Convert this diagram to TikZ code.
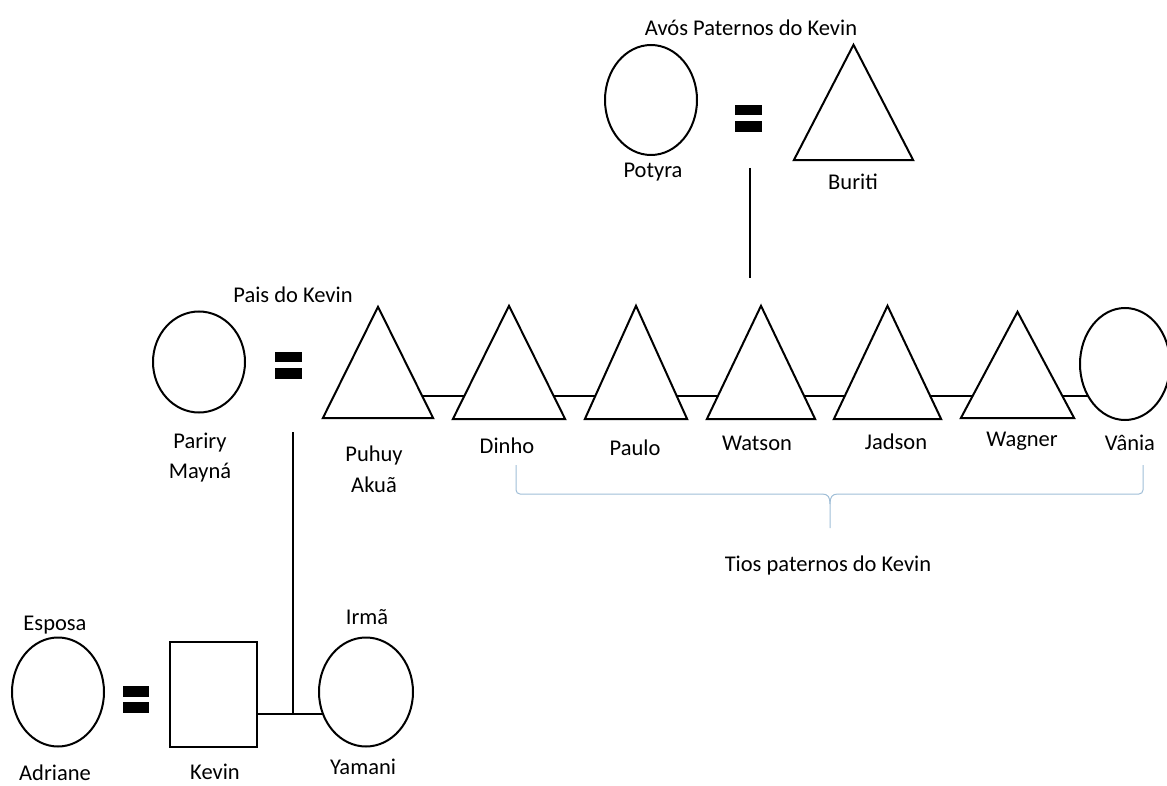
\documentclass[tikz,border=0pt]{standalone}
\usepackage{fontspec}
\setmainfont{Carlito}
\usetikzlibrary{shapes.geometric,backgrounds}
\definecolor{bracecol}{RGB}{160,190,215}
\begin{document}
\begin{tikzpicture}[x=1pt,y=-1pt,
  every node/.style={font=\fontsize{22.5}{30}\selectfont, inner sep=0pt},
  lbl/.style={align=center},
  fem/.style={ellipse, draw, line width=2pt, fill=white},
  masc/.style={rectangle, draw, line width=2pt, fill=white},
  trihold/.style={rectangle, draw=none},
  tri/.style={line width=2pt, fill=white, line join=miter},
  link/.style={line width=2pt},
  eqbar/.style={fill=black},
  bracestyle/.style={draw=bracecol, line width=1pt}]
\useasboundingbox (0,0) rectangle (1167,786);

% ---------- grandparents ----------
\node[lbl] (avos) at (751,28) {Avós Paternos do Kevin};
\node[fem, minimum width=92, minimum height=110] (potyra) at (651,100) {};
\node[trihold, minimum width=119, minimum height=115] (buriti) at (853.5,102.5) {};
\draw[tri] (buriti.south west) -- (buriti.north) -- (buriti.south east) -- cycle;
\node[lbl] (potyraL) at (653,172) {Potyra};
\node[lbl] (buritiL) at (853,182) {Buriti};
\fill[eqbar] (735,105) rectangle (762,115);
\fill[eqbar] (735,121) rectangle (762,132);
\coordinate (gpTop) at (750,168);
\coordinate (gpBot) at (750,278);
\draw[link] (gpTop) -- (gpBot);

% ---------- parents and siblings ----------
\node[lbl] (pais) at (293,295) {Pais do Kevin};
\node[fem, minimum width=92, minimum height=101] (pariry) at (199,362) {};
\node[lbl] (paririL) at (200,458) {Pariry\\Mayná};
\fill[eqbar] (275,352) rectangle (302,362);
\fill[eqbar] (275,368) rectangle (302,379);

\node[trihold, minimum width=110, minimum height=111] (puhuy) at (378,362.5) {};
\node[trihold, minimum width=112, minimum height=113] (dinho) at (509,362.5) {};
\node[trihold, minimum width=102, minimum height=113] (paulo) at (636,362.5) {};
\node[trihold, minimum width=108, minimum height=113] (watson) at (761,362.5) {};
\node[trihold, minimum width=107, minimum height=113] (jadson) at (887.5,362.5) {};
\node[trihold, minimum width=113, minimum height=106] (wagner) at (1017.5,365) {};
\node[fem, minimum width=90, minimum height=112] (vania) at (1125,364) {};

\coordinate (sibY) at (0,396);
\begin{scope}[on background layer]
  \draw[link] (puhuy.center |- sibY) -- (vania.center |- sibY);
\end{scope}
\foreach \n in {puhuy,dinho,paulo,watson,jadson,wagner}{
  \draw[tri] (\n.south west) -- (\n.north) -- (\n.south east) -- cycle;
}

\node[lbl] (puhuyL) at (374,469) {Puhuy\\[1pt]Akuã};
\node[lbl] (dinhoL) at (507,446) {Dinho};
\node[lbl] (pauloL) at (635,448) {Paulo};
\node[lbl] (watsonL) at (757,443) {Watson};
\node[lbl] (jadsonL) at (896,442) {Jadson};
\node[lbl] (wagnerL) at (1022,441) {Wagner};
\node[lbl] (vaniaL) at (1130,443) {Vânia};

% brace
\draw[bracestyle, rounded corners=4pt] (516,465) -- (516,494) -- (822,494);
\draw[bracestyle] (822,494) .. controls (828,494) and (830,497) .. (830,504) -- (830,528);
\draw[bracestyle, rounded corners=4pt] (1143,465) -- (1143,494) -- (838,494);
\draw[bracestyle] (838,494) .. controls (832,494) and (830,497) .. (830,504);
\node[lbl] (tios) at (828,565) {Tios paternos do Kevin};

% ---------- Kevin generation ----------
\coordinate (descTop) at (293,432);
\node[lbl] (esposa) at (55,625) {Esposa};
\node[fem, minimum width=92, minimum height=109] (adriane) at (58,692) {};
\node[lbl] (adrianeL) at (55,773) {Adriane};
\fill[eqbar] (123,686) rectangle (149,697);
\fill[eqbar] (123,702) rectangle (149,713);
\node[masc, minimum width=87, minimum height=105] (kevin) at (213.5,694.5) {};
\node[lbl] (kevinL) at (215,772) {Kevin};
\node[lbl] (irma) at (367,617) {Irmã};
\node[fem, minimum width=94, minimum height=109] (yamani) at (366,692) {};
\node[lbl] (yamaniL) at (363,767) {Yamani};

\coordinate (kidY) at (0,714);
\coordinate (junction) at (293,714);
\begin{scope}[on background layer]
  \draw[link] (kevin.center |- kidY) -- (yamani.center |- kidY);
  \draw[link] (descTop) -- (junction);
\end{scope}
\end{tikzpicture}
\end{document}
